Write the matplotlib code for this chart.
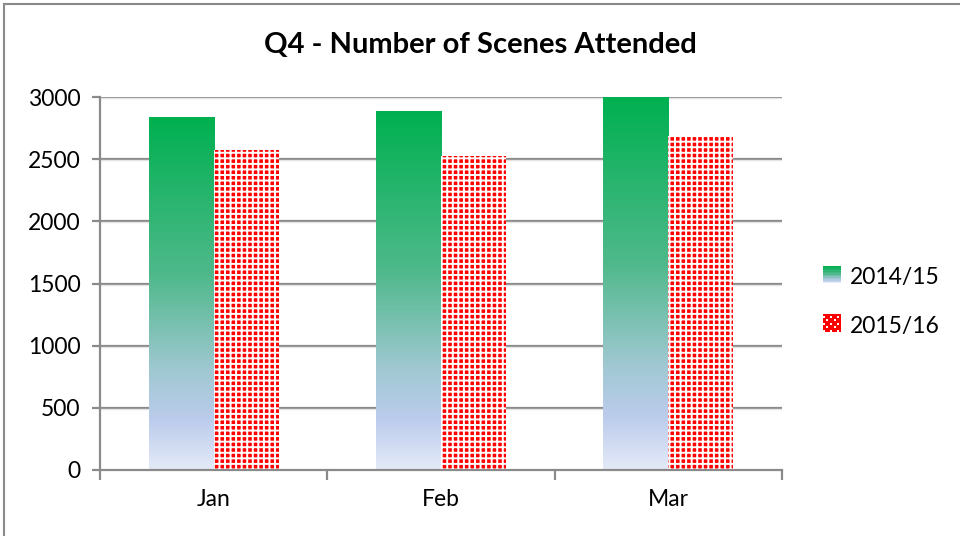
import numpy as np
import matplotlib
matplotlib.use("Agg")
import matplotlib.pyplot as plt
from matplotlib.colors import LinearSegmentedColormap
from matplotlib.patches import Rectangle, Patch
from matplotlib.legend_handler import HandlerPatch

categories = ["Jan", "Feb", "Mar"]
series_names = ["2014/15", "2015/16"]
values_1415 = [2832, 2880, 3000]
values_1516 = [2576, 2526, 2687]
yticks = [0, 500, 1000, 1500, 2000, 2500, 3000]

plt.rcParams['font.family'] = ['Lato', 'DejaVu Sans']
plt.rcParams['hatch.linewidth'] = 1.4
plt.rcParams['hatch.color'] = 'white'

fig = plt.figure(figsize=(9.6, 5.36), dpi=100)
ax = fig.add_axes([100/960, 1-470/536, (782-100)/960, (470-97)/536])

cmap = LinearSegmentedColormap.from_list("grad", [
    (0.0, (0/255, 176/255, 80/255)),
    (0.45, (80/255, 185/255, 140/255)),
    (0.72, (160/255, 200/255, 210/255)),
    (0.86, (188/255, 204/255, 236/255)),
    (1.0, (228/255, 234/255, 248/255)),
])

width = 0.286
x = np.arange(len(categories))

for i, (v1, v2) in enumerate(zip(values_1415, values_1516)):
    x0 = x[i] - width
    grad = np.linspace(0, 1, 256).reshape(-1, 1)
    ax.imshow(grad, cmap=cmap, aspect='auto', extent=[x0, x0 + width, 0, v1],
              origin='upper', zorder=3, interpolation='bilinear')

ax.bar(x + width / 2, values_1516, width=width, facecolor='#ff0000', edgecolor='white',
       hatch='+++', linewidth=0, zorder=3)

ax.set_xlim(-0.5, len(categories) - 0.5)
ax.set_ylim(0, 3000)

for yv in yticks[1:]:
    ax.axhline(yv, color='#8a8a8a', lw=1.6, zorder=1)
    ax.axhline(yv - 9, color='#e4e4e4', lw=1.0, zorder=1)

for s in ['top', 'right']:
    ax.spines[s].set_visible(False)
for s in ['left', 'bottom']:
    ax.spines[s].set_color('#8a8a8a')
    ax.spines[s].set_linewidth(1.6)
    ax.spines[s].set_zorder(4)

ax.set_yticks(yticks)
ax.set_yticklabels([str(t) for t in yticks], fontsize=16.5)
ax.tick_params(axis='y', length=6, width=1.6, color='#8a8a8a', direction='out', pad=8)
ax.set_xticks([-0.5, 0.5, 1.5, 2.5])
ax.set_xticklabels([])
ax.tick_params(axis='x', which='major', length=7, width=1.6, color='#8a8a8a', direction='out')
ax.set_xticks(x, minor=True)
ax.set_xticklabels(categories, minor=True, fontsize=16.5)
ax.tick_params(axis='x', which='minor', length=0, pad=14)

fig.text(0.5, 1 - 45/536, "Q4 - Number of Scenes Attended", ha='center', va='center',
         fontsize=21, fontweight='bold')

class GradHandler(HandlerPatch):
    def create_artists(self, legend, orig_handle, xdescent, ydescent, width, height, fontsize, trans):
        arts = []
        n = 12
        for k in range(n):
            c = cmap(k / (n - 1))
            r = Rectangle((xdescent, ydescent + height * (1 - (k + 1) / n)), width, height / n,
                          facecolor=c, edgecolor='none', transform=trans)
            arts.append(r)
        return arts

class PatHandler(HandlerPatch):
    def create_artists(self, legend, orig_handle, xdescent, ydescent, width, height, fontsize, trans):
        arts = [Rectangle((xdescent, ydescent), width, height, facecolor='red',
                          edgecolor='none', transform=trans)]
        n = 5
        for a in range(n):
            for b in range(n):
                if (a + b) % 2 == 0:
                    arts.append(Rectangle((xdescent + width * a / n, ydescent + height * b / n),
                                          width / n * 0.6, height / n * 0.6, facecolor='white',
                                          edgecolor='none', transform=trans))
        return arts

h1 = Patch(label=series_names[0])
h2 = Patch(label=series_names[1])
leg = fig.legend([h1, h2], series_names, loc='center left',
                 bbox_to_anchor=(802/960, 1 - 302/536), frameon=False, fontsize=16.5,
                 handlelength=0.8, handleheight=0.8, handletextpad=0.4, labelspacing=1.2,
                 handler_map={h1: GradHandler(), h2: PatHandler()})

fig.patches.append(Rectangle((4/960, -0.1), 1.2, 1 - 4/536 + 0.1, transform=fig.transFigure,
                             fill=False, edgecolor='#8a8a8a', lw=1.5))

fig.savefig("out.png", dpi=100)
